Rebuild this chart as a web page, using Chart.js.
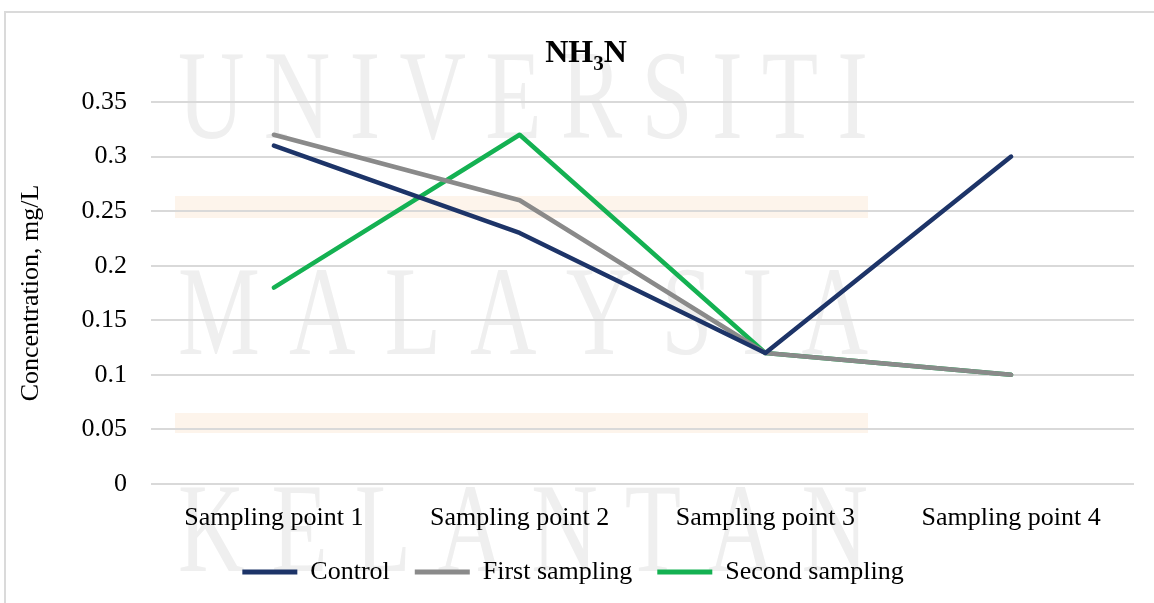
<!DOCTYPE html>
<html>
<head>
<meta charset="utf-8">
<script src="https://cdn.jsdelivr.net/npm/chart.js@4.4.1/dist/chart.umd.min.js"></script>
<style>
  html, body { margin: 0; padding: 0; background: #fff; }
  #wrap { position: relative; width: 1154px; height: 603px; overflow: hidden; }
  #frame { position: absolute; left: 4px; top: 11px; width: 1200px; height: 700px;
           border-left: 2px solid #dadada; border-top: 2px solid #dadada; }
  #chart { position: absolute; left: 0; top: 0; }
</style>
</head>
<body>
<div id="wrap">
  <div id="frame"></div>
  <canvas id="chart" width="1154" height="603"></canvas>
</div>
<script>
// data
const categories = ["Sampling point 1", "Sampling point 2", "Sampling point 3", "Sampling point 4"];
const control = [0.31, 0.23, 0.12, 0.30];
const firstSampling = [0.32, 0.26, 0.12, 0.10];
const secondSampling = [0.18, 0.32, 0.12, 0.10];
const yTicks = [0, 0.05, 0.1, 0.15, 0.2, 0.25, 0.3, 0.35];

const serif = "'Liberation Serif', 'Times New Roman', serif";
const navy = "#1d3468";
const grey = "#8a8a8a";
const green = "#14b152";

// faint document watermark behind the plot
const watermark = {
  id: "watermark",
  beforeDraw(chart) {
    const ctx = chart.ctx;
    ctx.save();
    ctx.fillStyle = "#fdf4eb";
    ctx.fillRect(175, 196, 693, 22);
    ctx.fillRect(175, 413, 693, 20);
    ctx.fillStyle = "#efefef";
    ctx.font = "128px " + serif;
    ctx.textBaseline = "alphabetic";
    const rows = [["UNIVERSITI", 138], ["MALAYSIA", 354], ["KELANTAN", 571]];
    const sx = 0.72, x0 = 178, x1 = 868;
    rows.forEach(([word, base]) => {
      const chars = word.split("");
      const widths = chars.map(c => ctx.measureText(c).width * sx);
      const total = widths.reduce((a, b) => a + b, 0);
      const gap = (x1 - x0 - total) / (chars.length - 1);
      let x = x0;
      chars.forEach((c, i) => {
        ctx.save();
        ctx.translate(x, base);
        ctx.scale(sx, 1);
        ctx.fillText(c, 0, 0);
        ctx.restore();
        x += widths[i] + gap;
      });
    });
    ctx.restore();
  }
};

// title with subscript 3
const subTitle = {
  id: "subTitle",
  afterDraw(chart) {
    const ctx = chart.ctx;
    const parts = [["NH", "bold 32px " + serif, 0], ["3", "bold 21px " + serif, 8], ["N", "bold 32px " + serif, 0]];
    ctx.save();
    ctx.fillStyle = "#000";
    ctx.textBaseline = "alphabetic";
    let w = 0;
    parts.forEach(p => { ctx.font = p[1]; w += ctx.measureText(p[0]).width; });
    let x = 586 - w / 2;
    parts.forEach(p => {
      ctx.font = p[1];
      ctx.fillText(p[0], x, 62 + p[2]);
      x += ctx.measureText(p[0]).width;
    });
    ctx.restore();
  }
};

const ctx = document.getElementById("chart").getContext("2d");

function series(label, data, color) {
  return {
    label,
    data,
    borderColor: color,
    backgroundColor: color,
    borderWidth: 4.5,
    borderCapStyle: "round",
    borderJoinStyle: "round",
    pointRadius: 0,
    pointHoverRadius: 0,
    tension: 0,
    fill: false,
  };
}

const chart = new Chart(ctx, {
  type: "line",
  data: {
    labels: categories,
    datasets: [
      series("Control", control, navy),
      series("First sampling", firstSampling, grey),
      series("Second sampling", secondSampling, green),
    ],
  },
  options: {
    responsive: false,
    animation: false,
    devicePixelRatio: 1,
    layout: { padding: { left: 12, right: 20, top: 102, bottom: 8 } },
    plugins: {
      title: { display: false },
      tooltip: { enabled: false },
      legend: {
        position: "bottom",
        labels: {
          font: { family: serif, size: 26 },
          color: "#000",
          boxWidth: 55,
          boxHeight: 5,
          padding: 25,
          useBorderRadius: true,
          borderRadius: 2.5,
          generateLabels(c) {
            return c.data.datasets.map((d, i) => ({
              text: d.label,
              fillStyle: d.borderColor,
              strokeStyle: d.borderColor,
              lineWidth: 0,
              hidden: false,
              datasetIndex: i,
              fontColor: "#000",
            }));
          },
        },
      },
    },
    scales: {
      x: {
        offset: true,
        grid: { display: false },
        border: { display: false },
        ticks: { font: { family: serif, size: 26 }, color: "#000", padding: 11, maxRotation: 0 },
        afterFit(scale) { scale.height = 50; },
      },
      y: {
        min: 0,
        max: 0.35,
        afterBuildTicks(scale) { scale.ticks = yTicks.map(v => ({ value: v })); },
        grid: { color: "#d9d9d9", lineWidth: 2, drawTicks: false },
        border: { display: false },
        ticks: {
          font: { family: serif, size: 26 },
          color: "#000",
          padding: 24,
          callback: v => String(+v.toFixed(2)),
        },
        title: {
          display: true,
          text: "Concentration, mg/L",
          font: { family: serif, size: 26 },
          color: "#000",
          padding: { top: 4, bottom: 4 },
        },
        afterFit(scale) { scale.width = 139; },
      },
    },
  },
  plugins: [watermark, subTitle],
});
</script>
</body>
</html>
